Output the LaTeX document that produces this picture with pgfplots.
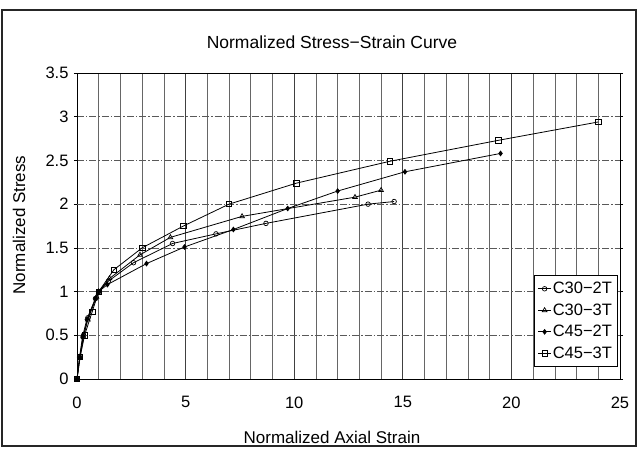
\documentclass[border=0pt]{standalone}
\usepackage{fontspec}
\setmainfont{Liberation Sans}
\usepackage{pgfplots}
\pgfplotsset{compat=1.18}
\begin{document}
\begin{tikzpicture}[x=1pt,y=1pt]
\useasboundingbox (-77,-69) rectangle (561,379);
\draw[line width=1.2pt, black!85] (-75,-67) rectangle (559,369);
\begin{axis}[
  at={(0,0)}, anchor=south west,
  scale only axis, width=543pt, height=306pt,
  xmin=0, xmax=25, ymin=0, ymax=3.5,
  xtick={0,5,...,25}, ytick={0,0.5,...,3.5},
  minor x tick num=4,
  xmajorgrids, xminorgrids, ymajorgrids,
  major x grid style={black!75, line width=0.7pt},
  minor x grid style={black!60, line width=0.6pt},
  major y grid style={black!65, dash pattern=on 7pt off 2pt on 1.5pt off 2pt, line width=0.6pt},
  extra y ticks={2}, extra y tick labels={},
  extra y tick style={grid=major, major grid style={black!85, solid, line width=0.7pt}},
  axis line style={black, line width=0.9pt},
  x tick style={draw=none}, minor x tick style={draw=none},
  y tick style={black, line width=0.6pt}, tick align=outside, major tick length=3pt,
  /pgf/number format/assume math mode=true,
  tick label style={font=\fontsize{16.5}{18}\selectfont},
  xticklabel style={yshift=-11pt},
  yticklabel style={xshift=-2pt},
  legend cell align=left,
  legend style={at={(rel axis cs:0.996,0.04)}, anchor=south east, draw=black, line width=0.8pt,
    font=\fontsize{16.5}{18}\selectfont, row sep=5.5pt, inner xsep=4pt, inner ysep=5pt,
    nodes={inner sep=1.5pt}},
  legend image code/.code={\draw[mark repeat=2,mark phase=2,#1] plot coordinates {(0cm,0cm)(0.22cm,0cm)(0.44cm,0cm)};},
]
\addplot[black, line width=0.8pt, mark=o, mark size=2.3pt, mark options={solid, line width=0.7pt}] coordinates {
(0,0)(0.12,0.25)(0.3,0.5)(0.5,0.7)(0.85,0.92)(1.0,1.0)(1.45,1.12)(2.6,1.33)(4.4,1.55)(6.4,1.66)(8.7,1.78)(13.4,2.0)(14.6,2.03)};
\addlegendentry{C30−2T}
\addplot[black, line width=0.8pt, mark=triangle, mark size=2.7pt, mark options={solid, line width=0.7pt}] coordinates {
(0,0)(0.14,0.25)(0.3,0.48)(0.5,0.68)(0.9,0.94)(1.0,1.0)(1.5,1.15)(2.9,1.42)(4.3,1.62)(7.6,1.86)(12.8,2.08)(14.0,2.16)};
\addlegendentry{C30−3T}
\addplot[black, line width=0.8pt, mark=diamond*, mark size=2.3pt, mark options={solid}] coordinates {
(0,0)(0.12,0.25)(0.25,0.48)(0.45,0.68)(0.85,0.92)(1.0,1.0)(1.4,1.08)(3.2,1.32)(4.95,1.51)(7.2,1.71)(9.7,1.95)(12.0,2.15)(15.1,2.37)(19.5,2.58)};
\addlegendentry{C45−2T}
\addplot[black, line width=0.8pt, mark=square, mark size=2.7pt, mark options={solid, line width=0.7pt}] coordinates {
(0,0)(0.14,0.25)(0.35,0.5)(0.7,0.77)(1.0,1.0)(1.7,1.25)(3.0,1.5)(4.9,1.75)(7.0,2.0)(10.1,2.24)(14.4,2.49)(19.4,2.73)(24.0,2.94)};
\addlegendentry{C45−3T}
\end{axis}
\node[font=\fontsize{17.5}{19}\selectfont] at (255,337) {Normalized Stress−Strain Curve};
\node[font=\fontsize{17}{19}\selectfont, rotate=90] at (-58,154) {Normalized Stress};
\node[font=\fontsize{17}{19}\selectfont] at (255,-58) {Normalized Axial Strain};
\end{tikzpicture}
\end{document}
